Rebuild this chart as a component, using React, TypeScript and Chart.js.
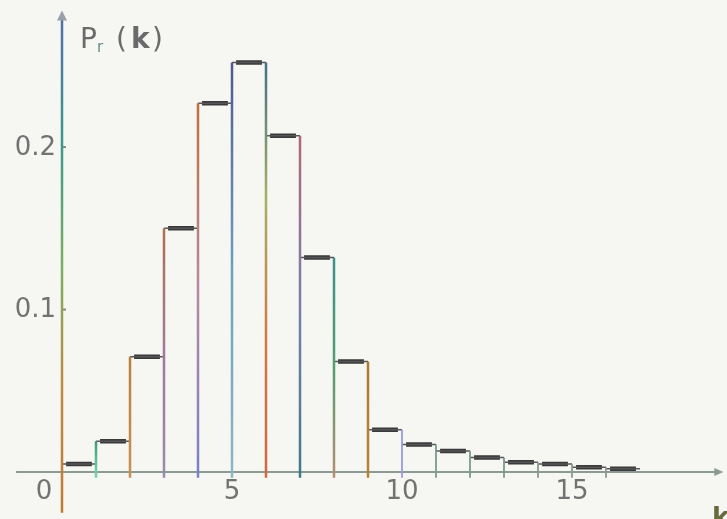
import React, { useEffect, useRef } from "react";
import { Chart, registerables } from "chart.js";

Chart.register(...registerables);

// ---- data ----
const kValues = [0, 1, 2, 3, 4, 5, 6, 7, 8, 9, 10, 11, 12, 13, 14, 15, 16];
const probabilities = [0.005, 0.019, 0.071, 0.15, 0.227, 0.252, 0.207, 0.132, 0.068, 0.026, 0.017, 0.013, 0.009, 0.006, 0.005, 0.003, 0.002];
const xTickValues = [0, 5, 10, 15];
const xTickLabels = ["0", "5", "10", "15"];
const yTickValues = [0.1, 0.2];
const yTickLabels = ["0.1", "0.2"];

// colours of the vertical bin edges, top -> bottom
const edgeColors: string[][] = [
  ["#3a9a78", "#6fd0a8"],
  ["#b8823a", "#c89050"],
  ["#b07050", "#a07a98", "#9a8aa8"],
  ["#c0703a", "#b888a0", "#7a80c8"],
  ["#505890", "#6aa0c0", "#88b8c8"],
  ["#40708a", "#a8b060", "#d07a40", "#d06840"],
  ["#b06878", "#7880a8", "#3f7a8a"],
  ["#3f9088", "#50a070", "#b09070"],
  ["#b07a30", "#b88030"],
  ["#9a9ae0", "#9a9ae0"],
  ["#7a9a90", "#7a9a90"],
  ["#7a9a90", "#7a9a90"],
  ["#7a9a90", "#7a9a90"],
  ["#8a9a90", "#8a9a90"],
  ["#8a9a90", "#8a9a90"],
  ["#8a9a90", "#8a9a90"],
];
const yAxisColors = ["#5070a8", "#3a9a8c", "#7ab060", "#c08a40", "#c07a30"];

const FONT = "'DejaVu Sans', sans-serif";

function gradientFor(chart: any, top: number, bottom: number, stops: string[]) {
  const y = chart.scales && chart.scales.y;
  if (!y || !chart.chartArea) return stops[0];
  const g = chart.ctx.createLinearGradient(0, y.getPixelForValue(top), 0, y.getPixelForValue(bottom));
  stops.forEach((c, i) => g.addColorStop(stops.length === 1 ? 0 : i / (stops.length - 1), c));
  return g;
}

export default function App() {
  const ref = useRef<HTMLCanvasElement | null>(null);

  useEffect(() => {
    document.body.style.margin = "0";
    const canvas = ref.current!;
    const datasets: any[] = [];

    // y-axis line with gradient
    datasets.push({
      data: [{ x: 0, y: -0.025 }, { x: 0, y: 0.278 }],
      borderColor: (c: any) => gradientFor(c.chart, 0.278, -0.025, yAxisColors),
      borderWidth: 2.5,
      pointRadius: 0,
    });

    // vertical edges of the bins
    for (let e = 1; e <= kValues.length - 1; e++) {
      const h = Math.max(probabilities[e - 1], probabilities[e]);
      const stops = edgeColors[e - 1];
      datasets.push({
        data: [{ x: e, y: -0.0035 }, { x: e, y: h }],
        borderColor: (c: any) => gradientFor(c.chart, h, 0, stops),
        borderWidth: e <= 9 ? 2.5 : 1.8,
        pointRadius: 0,
      });
    }

    // thin full-width tops
    const thin: any[] = [];
    const thick: any[] = [];
    kValues.forEach((k, i) => {
      const p = probabilities[i];
      thin.push({ x: k, y: p }, { x: k + 1, y: p }, { x: k + 1, y: null });
      thick.push({ x: k + 0.12, y: p }, { x: k + 0.88, y: p }, { x: k + 0.88, y: null });
    });
    datasets.push({ data: thin, borderColor: "#555", borderWidth: 1.5, pointRadius: 0, spanGaps: false });
    datasets.push({ data: thick, borderColor: "#3a3a3a", borderWidth: 4.5, pointRadius: 0, spanGaps: false });

    const decor = {
      id: "decor",
      beforeDraw(chart: any) {
        const ctx = chart.ctx;
        ctx.save();
        ctx.fillStyle = "#f6f6f3";
        ctx.fillRect(0, 0, chart.width, chart.height);
        ctx.restore();
      },
      beforeDatasetsDraw(chart: any) {
        const ctx = chart.ctx;
        const x = chart.scales.x;
        const y = chart.scales.y;
        const y0 = y.getPixelForValue(0);
        ctx.save();
        // x axis
        ctx.strokeStyle = "#8c9a94";
        ctx.lineWidth = 2;
        ctx.beginPath();
        ctx.moveTo(x.getPixelForValue(-1.35), y0);
        ctx.lineTo(x.getPixelForValue(19.3), y0);
        ctx.stroke();
        // x arrow
        const xa = x.getPixelForValue(19.45);
        ctx.fillStyle = "#8c9a94";
        ctx.beginPath();
        ctx.moveTo(xa, y0);
        ctx.lineTo(xa - 9, y0 - 4);
        ctx.lineTo(xa - 9, y0 + 4);
        ctx.closePath();
        ctx.fill();
        // y arrow
        const x0 = x.getPixelForValue(0);
        const ya = y.getPixelForValue(0.284);
        ctx.fillStyle = "#9aa0a8";
        ctx.beginPath();
        ctx.moveTo(x0, ya);
        ctx.lineTo(x0 - 5, ya + 10);
        ctx.lineTo(x0 + 5, ya + 10);
        ctx.closePath();
        ctx.fill();
        // y tick marks
        ctx.strokeStyle = "#888";
        ctx.lineWidth = 2;
        yTickValues.forEach((v) => {
          const py = y.getPixelForValue(v);
          ctx.beginPath();
          ctx.moveTo(x0, py);
          ctx.lineTo(x0 + 4, py);
          ctx.stroke();
        });
        ctx.restore();
      },
      afterDatasetsDraw(chart: any) {
        const ctx = chart.ctx;
        const x = chart.scales.x;
        const y = chart.scales.y;
        const x0 = x.getPixelForValue(0);
        const y0 = y.getPixelForValue(0);
        ctx.save();
        ctx.fillStyle = "#727272";
        ctx.font = `26px ${FONT}`;
        ctx.textBaseline = "middle";
        xTickValues.forEach((v, i) => {
          let px = x.getPixelForValue(v);
          if (v === 0) px -= 18;
          ctx.textAlign = "center";
          ctx.fillText(xTickLabels[i], px, y0 + 20);
        });
        yTickValues.forEach((v, i) => {
          ctx.textAlign = "right";
          ctx.fillText(yTickLabels[i], x0 - 6, y.getPixelForValue(v) + 1);
        });
        // y title P_r ( k )
        ctx.fillStyle = "#6a6a6a";
        ctx.textAlign = "left";
        ctx.textBaseline = "alphabetic";
        ctx.font = `28px ${FONT}`;
        ctx.fillText("P", 80, 48);
        ctx.font = `15px ${FONT}`;
        ctx.fillStyle = "#6a8a8a";
        ctx.fillText("r", 97, 52);
        ctx.fillStyle = "#6a6a6a";
        ctx.font = `28px ${FONT}`;
        ctx.fillText("(", 116, 48);
        ctx.font = `bold 28px ${FONT}`;
        ctx.fillText("k", 131, 48);
        ctx.font = `28px ${FONT}`;
        ctx.fillText(")", 152, 48);
        // x title k
        ctx.fillStyle = "#6a6a40";
        ctx.font = `bold 26px ${FONT}`;
        ctx.fillText("k", 712, 526);
        ctx.restore();
      },
    };

    const chart = new Chart(canvas, {
      type: "line",
      data: { datasets },
      options: {
        animation: false,
        responsive: false,
        maintainAspectRatio: false,
        layout: { padding: 0 },
        plugins: { legend: { display: false }, tooltip: { enabled: false } },
        elements: { line: { tension: 0, borderCapStyle: "butt" } },
        scales: {
          x: { type: "linear", min: -62 / 34, max: (727 - 62) / 34, display: false },
          y: { type: "linear", min: 0.2905 - 519 / 1625, max: 0.2905, display: false },
        },
      },
      plugins: [decor],
    });
    return () => chart.destroy();
  }, []);

  return (
    <div style={{ width: 727, height: 519 }}>
      <canvas ref={ref} width={727} height={519} style={{ display: "block" }} />
    </div>
  );
}
